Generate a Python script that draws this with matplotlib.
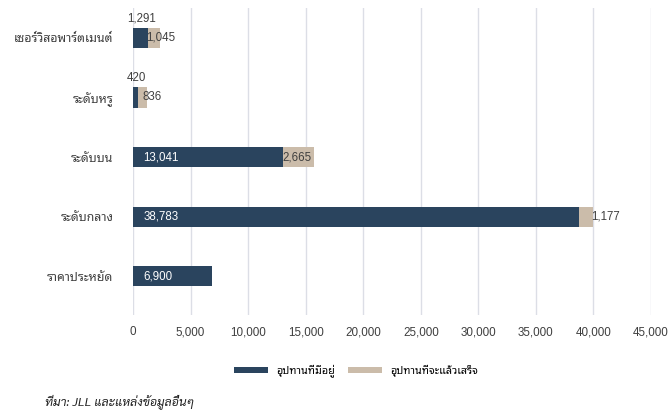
import matplotlib
matplotlib.use("Agg")
import matplotlib.pyplot as plt
from matplotlib.patches import Patch

# Data (units)
categories = ["เซอร์วิสอพาร์ตเมนต์", "ระดับหรู", "ระดับบน", "ระดับกลาง", "ราคาประหยัด"]
existing = [1291, 420, 13041, 38783, 6900]
future = [1045, 836, 2665, 1177, 0]
series_names = ["อุปทานที่มีอยู่", "อุปทานที่จะแล้วเสร็จ"]
x_ticks = [0, 5000, 10000, 15000, 20000, 25000, 30000, 35000, 40000, 45000]
source_text = "ที่มา: JLL และแหล่งข้อมูลอื่นๆ"

# Styles
DARK = "#2a445e"
TAN = "#cbbcaa"
GRID = "#dcdee6"
TEXT = "#3f3f3f"
SANS = ["Liberation Sans", "Noto Sans Thai Looped", "DejaVu Sans"]
# pixel nudges for the "future" labels (relative to where the segment starts)
future_dx = [-2, 5, -1, 12]

plt.rcParams["font.family"] = SANS

fig = plt.figure(figsize=(6.7, 4.12), dpi=100)
ax = fig.add_axes([0.1985, 0.2354, 0.7731, 0.7452])

pos = list(range(len(categories)))
ax.barh(pos, existing, height=0.34, color=DARK, zorder=3)
ax.barh(pos, future, left=existing, height=0.34, color=TAN, zorder=3)

ax.set_xlim(0, 45000)
ax.set_ylim(4.65, -0.5)
ax.set_xticks(x_ticks)
ax.set_xticklabels(["{:,}".format(v) for v in x_ticks])
ax.set_yticks(pos)
ax.set_yticklabels(categories, fontsize=8.9, color=TEXT)
ax.tick_params(axis="x", length=0, pad=8, labelsize=8.4, labelcolor=TEXT)
ax.tick_params(axis="y", length=0, pad=14)
ax.grid(axis="x", color=GRID, linewidth=1, zorder=0)
for s in ax.spines.values():
    s.set_visible(False)

# value labels
for i, (e, f) in enumerate(zip(existing, future)):
    if e < 3000:
        ax.annotate("{:,}".format(e), (e / 2, i), xytext=(1, 9.5),
                    textcoords="offset points", ha="center", va="bottom",
                    fontsize=8.3, color=TEXT, zorder=5)
    else:
        ax.annotate("{:,}".format(e), (0, i), xytext=(7.5, 0),
                    textcoords="offset points", ha="left", va="center",
                    fontsize=8.3, color="white", zorder=5)
    if f > 0:
        ax.annotate("{:,}".format(f), (e, i), xytext=(future_dx[i] * 0.72, 0),
                    textcoords="offset points", ha="left", va="center",
                    fontsize=8.3, color=TEXT, zorder=5)

handles = [Patch(facecolor=DARK, label=series_names[0]),
           Patch(facecolor=TAN, label=series_names[1])]
fig.legend(handles=handles, loc="center", bbox_to_anchor=(0.532, 0.0995),
           ncol=2, frameon=False, handlelength=3.1,
           handleheight=0.55, columnspacing=1.2, handletextpad=0.8,
           prop={"family": ["Noto Sans Thai Looped", "DejaVu Sans"], "size": 7.8})

fig.text(0.067, 0.026, source_text, ha="left", va="center", fontsize=8.8,
         style="italic", family=["Sarabun", "DejaVu Sans"], color="#222222")

fig.savefig("out.png", dpi=100)
